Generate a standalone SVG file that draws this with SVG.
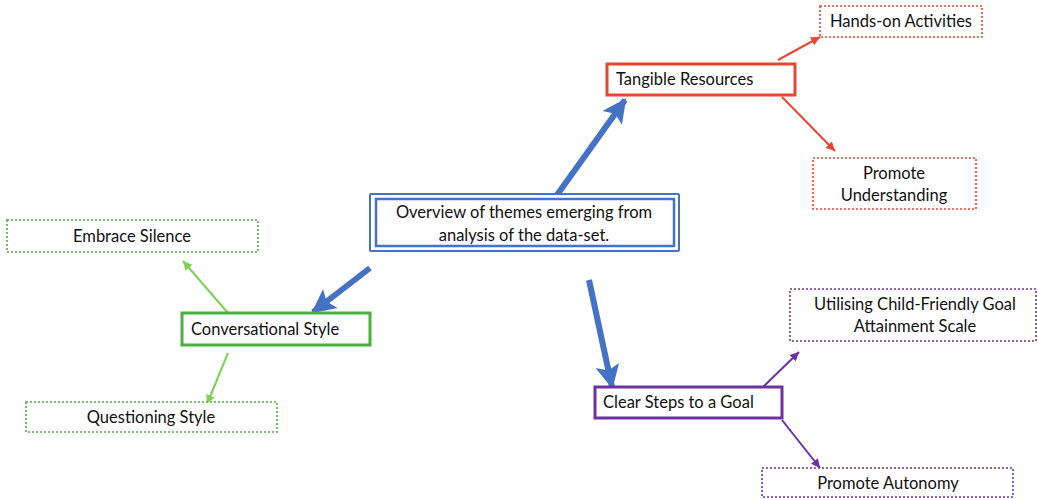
<svg xmlns="http://www.w3.org/2000/svg" width="1038" height="499" viewBox="0 0 1038 499">
<style>
text{font-family:Lato,"Liberation Sans",sans-serif;font-size:16.5px;fill:#111}
.c{text-anchor:middle}
.dot{fill:#fff;stroke-width:1.6;stroke-dasharray:2 2}
.solid{fill:#fff;stroke-width:3}
.blue{stroke:#4472C4;stroke-width:6;fill:none}
</style>
<defs>
<marker id="hb" markerUnits="userSpaceOnUse" markerWidth="26" markerHeight="26" refX="22" refY="13" orient="auto"><path d="M0,1 L24,13 L0,25 L5,13 Z" fill="#4472C4"/></marker>
<marker id="hr" markerUnits="userSpaceOnUse" markerWidth="10" markerHeight="10" refX="9" refY="5" orient="auto"><path d="M0,0.5 L9,5 L0,9.5 Z" fill="#E8472F"/></marker>
<marker id="hg" markerUnits="userSpaceOnUse" markerWidth="10" markerHeight="10" refX="9" refY="5" orient="auto"><path d="M0,0.5 L9,5 L0,9.5 Z" fill="#7ED152"/></marker>
<marker id="hp" markerUnits="userSpaceOnUse" markerWidth="10" markerHeight="10" refX="9" refY="5" orient="auto"><path d="M0,0.5 L9,5 L0,9.5 Z" fill="#7030A0"/></marker>
</defs>
<g id="connectors">
<line class="blue" x1="557" y1="195" x2="625" y2="100" marker-end="url(#hb)"/>
<line class="blue" x1="370" y1="268" x2="313" y2="312" marker-end="url(#hb)"/>
<line class="blue" x1="589" y1="280" x2="612" y2="387" marker-end="url(#hb)"/>
<line x1="778" y1="60" x2="820" y2="37" stroke="#E8472F" stroke-width="2" marker-end="url(#hr)"/>
<line x1="782" y1="97" x2="835" y2="151" stroke="#E8472F" stroke-width="2" marker-end="url(#hr)"/>
<line x1="228" y1="313" x2="183" y2="261" stroke="#7ED152" stroke-width="2" marker-end="url(#hg)"/>
<line x1="228" y1="353" x2="207" y2="404" stroke="#7ED152" stroke-width="2" marker-end="url(#hg)"/>
<line x1="763" y1="387" x2="799" y2="352" stroke="#7030A0" stroke-width="2" marker-end="url(#hp)"/>
<line x1="782" y1="420" x2="820" y2="468" stroke="#7030A0" stroke-width="2" marker-end="url(#hp)"/>
</g>
<g id="central">
<rect x="370" y="194" width="309" height="57" fill="#fff" stroke="#4472C4" stroke-width="2" rx="1"/>
<rect x="376" y="199" width="298" height="47" fill="none" stroke="#4472C4" stroke-width="2.5"/>
<text class="c" x="524" y="218">Overview of themes emerging from</text>
<text class="c" x="524" y="241">analysis of the data-set.</text>
</g>
<g id="tangible">
<rect class="solid" x="607" y="64" width="188" height="31" stroke="#E8472F"/>
<text x="616" y="85">Tangible Resources</text>
</g>
<g id="hands-on">
<rect class="dot" x="820" y="6" width="162" height="31" stroke="#E8472F"/>
<text class="c" x="901" y="27">Hands-on Activities</text>
</g>
<g id="promote-understanding">
<rect class="dot" x="813" y="158" width="163" height="51" stroke="#E8472F"/>
<text class="c" x="894" y="179">Promote</text>
<text class="c" x="894" y="201">Understanding</text>
</g>
<g id="conversational">
<rect class="solid" x="182" y="313" width="188" height="32" stroke="#4CAF3F"/>
<text x="191" y="335">Conversational Style</text>
</g>
<g id="embrace">
<rect class="dot" x="7" y="220" width="251" height="32" stroke="#4CAF3F"/>
<text class="c" x="132" y="242">Embrace Silence</text>
</g>
<g id="questioning">
<rect class="dot" x="26" y="402" width="251" height="30" stroke="#4CAF3F"/>
<text class="c" x="151" y="423">Questioning Style</text>
</g>
<g id="clear-steps">
<rect class="solid" x="595" y="387" width="187" height="31" stroke="#7030A0"/>
<text x="603" y="408">Clear Steps to a Goal</text>
</g>
<g id="utilising">
<rect class="dot" x="790" y="289" width="246" height="52" stroke="#7030A0"/>
<text class="c" x="915" y="310">Utilising Child-Friendly Goal</text>
<text class="c" x="915" y="332">Attainment Scale</text>
</g>
<g id="autonomy">
<rect class="dot" x="762" y="468" width="251" height="29" stroke="#7030A0"/>
<text class="c" x="888" y="489">Promote Autonomy</text>
</g>
</svg>
